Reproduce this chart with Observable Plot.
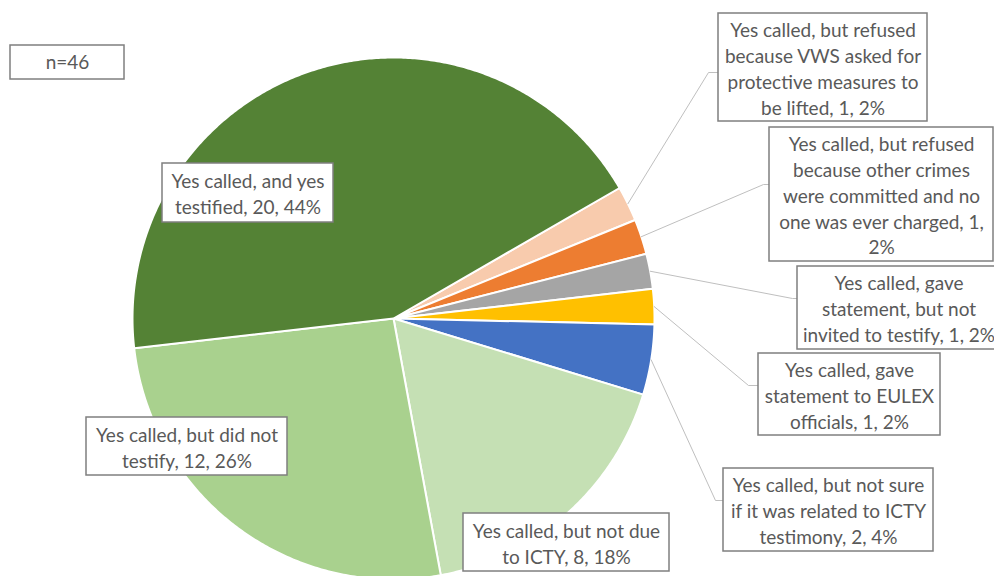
<!DOCTYPE html>
<html>
<head>
<meta charset="utf-8">
<script src="https://cdn.jsdelivr.net/npm/d3@7"></script>
<script src="https://cdn.jsdelivr.net/npm/@observablehq/plot@0.6"></script>
<style>
  html, body { margin: 0; padding: 0; background: #fff; }
  #chart svg { display: block; }
</style>
</head>
<body>
<div id="chart"></div>
<script>
// ---- data (clockwise order as drawn) ----
const categories = [
  "Yes called, but refused because VWS asked for protective measures to be lifted",
  "Yes called, but refused because other crimes were committed and no one was ever charged",
  "Yes called, gave statement, but not invited to testify",
  "Yes called, gave statement to EULEX officials",
  "Yes called, but not sure if it was related to ICTY testimony",
  "Yes called, but not due to ICTY",
  "Yes called, but did not testify",
  "Yes called, and yes testified"
];
const counts = [1, 1, 1, 1, 2, 8, 12, 20];
const percents = [2, 2, 2, 2, 4, 18, 26, 44];
const labelLines = [
  "Yes called, but refused\nbecause VWS asked for\nprotective measures to\nbe lifted, 1, 2%",
  "Yes called, but refused\nbecause other crimes\nwere committed and no\none was ever charged, 1,\n2%",
  "Yes called, gave\nstatement, but not\ninvited to testify, 1, 2%",
  "Yes called, gave\nstatement to EULEX\nofficials, 1, 2%",
  "Yes called, but not sure\nif it was related to ICTY\ntestimony, 2, 4%",
  "Yes called, but not due\nto ICTY, 8, 18%",
  "Yes called, but did not\ntestify, 12, 26%",
  "Yes called, and yes\ntestified, 20, 44%"
];
const sampleNote = "n=46";

// ---- styles / layout ----
const colors = ["#F8CBAD", "#ED7D31", "#A5A5A5", "#FFC000", "#4472C4", "#C5E0B4", "#A9D18E", "#548235"];
const W = 994, H = 576;
const cx = 393, cy = 318, R = 261;
const startDeg = 60;
// label boxes [x1, y1, x2, y2]
const boxes = [
  [718, 13, 927, 121],
  [769, 127, 993, 261],
  [797, 266, 1000, 349],
  [758, 353, 940, 435],
  [723, 468, 933, 551],
  [463, 513, 669, 571],
  [86, 417, 287, 475],
  [162, 163, 333, 222]
];
// leader elbow and end points (null = no leader)
const leaders = [
  [[708, 72], [718, 72]],
  [[763, 184], [769, 184]],
  [[792, 298], [797, 298]],
  [[748, 385], [758, 385]],
  [[715, 500], [723, 500]],
  null, null, null
];

// ---- geometry via d3.pie ----
const pie = d3.pie().sort(null).value(d => d)
  .startAngle(startDeg * Math.PI / 180)
  .endAngle(startDeg * Math.PI / 180 + 2 * Math.PI)(counts);

const polar = (a, r) => [cx + r * Math.sin(a), cy - r * Math.cos(a)];

const slicePts = [];
pie.forEach((p, i) => {
  const name = categories[i];
  slicePts.push({name, x: cx, y: cy});
  const n = Math.max(4, Math.ceil((p.endAngle - p.startAngle) / (Math.PI / 360)));
  for (let k = 0; k <= n; k++) {
    const a = p.startAngle + (p.endAngle - p.startAngle) * k / n;
    const [x, y] = polar(a, R);
    slicePts.push({name, x, y});
  }
});

const leaderPts = [];
pie.forEach((p, i) => {
  if (!leaders[i]) return;
  const mid = (p.startAngle + p.endAngle) / 2;
  const [x0, y0] = polar(mid, R);
  leaderPts.push({id: i, x: x0, y: y0});
  leaders[i].forEach(([x, y]) => leaderPts.push({id: i, x, y}));
});

const labels = categories.map((c, i) => ({
  name: c,
  text: labelLines[i],
  x1: boxes[i][0], y1: boxes[i][1], x2: boxes[i][2], y2: boxes[i][3],
  xm: (boxes[i][0] + boxes[i][2]) / 2, ym: (boxes[i][1] + boxes[i][3]) / 2
}));
const note = [{text: sampleNote, x1: 10, y1: 45, x2: 124, y2: 79}];

const font = "Lato, 'Open Sans', sans-serif";

const chart = Plot.plot({
  width: W, height: H,
  margin: 0,
  style: {background: "#fff", fontFamily: font, overflow: "hidden"},
  x: {domain: [0, W], range: [0, W], axis: null},
  y: {domain: [0, H], range: [0, H], axis: null},
  color: {domain: categories, range: colors},
  marks: [
    Plot.line(slicePts, {x: "x", y: "y", z: "name", fill: "name", stroke: "#fff", strokeWidth: 2, curve: "linear-closed"}),
    Plot.line(leaderPts, {x: "x", y: "y", z: "id", stroke: "#BFBFBF", strokeWidth: 1}),
    Plot.rect(labels, {x1: "x1", x2: "x2", y1: "y1", y2: "y2", fill: "#fff", stroke: "#7F7F7F", strokeWidth: 1.5}),
    Plot.text(labels, {x: "xm", y: "ym", text: "text", fontSize: 19, lineHeight: 1.36, fill: "#595959", textAnchor: "middle"}),
    Plot.rect(note, {x1: "x1", x2: "x2", y1: "y1", y2: "y2", fill: "#fff", stroke: "#7F7F7F", strokeWidth: 1.5}),
    Plot.text(note, {x: d => (d.x1 + d.x2) / 2, y: d => (d.y1 + d.y2) / 2, text: "text", fontSize: 19, fill: "#595959", textAnchor: "middle"})
  ]
});
document.getElementById("chart").appendChild(chart);
</script>
</body>
</html>
